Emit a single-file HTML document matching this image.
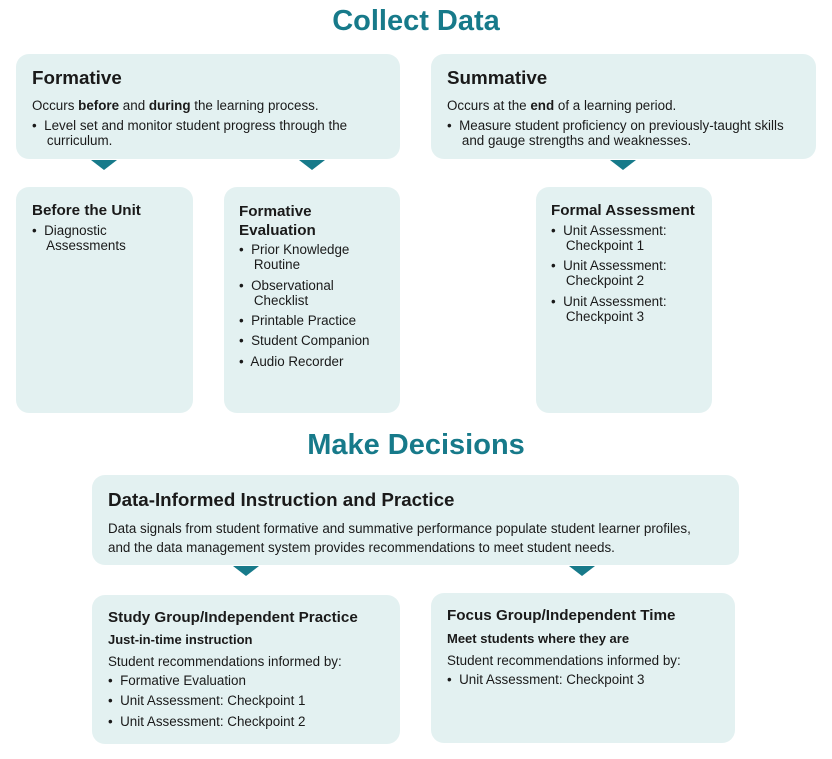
<!DOCTYPE html>
<html><head><meta charset="utf-8"><style>
*{margin:0;padding:0;box-sizing:border-box}
body{width:832px;height:759px;background:#fff;position:relative;font-family:"Liberation Sans",Arial,sans-serif;color:#1a1a1a;overflow:hidden}
.b{position:absolute;background:#e3f1f1;border-radius:13px}
.t{position:absolute;white-space:nowrap}
.h1{font-size:29px;font-weight:bold;color:#177a8a}
.h2{font-size:18.8px;font-weight:bold}
.h3{font-size:15.2px;font-weight:bold}
.p{font-size:13.4px;line-height:15px}
.tri{position:absolute;width:0;height:0;border-left:13px solid transparent;border-right:13px solid transparent;border-top:10px solid #177a8a}
</style></head><body>
<div class="t h1" style="left:0;width:832px;text-align:center;top:5px">Collect Data</div>

<div class="b" style="left:16px;top:54px;width:384px;height:105px"></div>
<div class="t h2" style="left:32px;top:67px">Formative</div>
<div class="t p" style="left:32px;top:98px">Occurs <b>before</b> and <b>during</b> the learning process.</div>
<div class="t p" style="left:32px;top:118px">•&nbsp; Level set and monitor student progress through the<br>&nbsp;&nbsp;&nbsp; curriculum.</div>

<div class="b" style="left:431px;top:54px;width:385px;height:105px"></div>
<div class="t h2" style="left:447px;top:67px">Summative</div>
<div class="t p" style="left:447px;top:98px">Occurs at the <b>end</b> of a learning period.</div>
<div class="t p" style="left:447px;top:118px">•&nbsp; Measure student proficiency on previously-taught skills<br>&nbsp;&nbsp;&nbsp; and gauge strengths and weaknesses.</div>

<div class="tri" style="left:91px;top:160px"></div>
<div class="tri" style="left:299px;top:160px"></div>
<div class="tri" style="left:610px;top:160px"></div>

<div class="b" style="left:16px;top:187px;width:177px;height:226px"></div>
<div class="t h3" style="left:32px;top:202px">Before the Unit</div>
<div class="t p" style="left:32px;top:223px">•&nbsp; Diagnostic<br>&nbsp;&nbsp;&nbsp; Assessments</div>

<div class="b" style="left:224px;top:187px;width:176px;height:226px"></div>
<div class="t h3" style="left:239px;top:202px;line-height:19px">Formative<br>Evaluation</div>
<div class="t p" style="left:239px;top:242px">•&nbsp; Prior Knowledge<br>&nbsp;&nbsp;&nbsp; Routine</div>
<div class="t p" style="left:239px;top:278px">•&nbsp; Observational<br>&nbsp;&nbsp;&nbsp; Checklist</div>
<div class="t p" style="left:239px;top:313px">•&nbsp; Printable Practice</div>
<div class="t p" style="left:239px;top:333px">•&nbsp; Student Companion</div>
<div class="t p" style="left:239px;top:354px">•&nbsp; Audio Recorder</div>

<div class="b" style="left:536px;top:187px;width:176px;height:226px"></div>
<div class="t h3" style="left:551px;top:202px">Formal Assessment</div>
<div class="t p" style="left:551px;top:223px">•&nbsp; Unit Assessment:<br>&nbsp;&nbsp;&nbsp; Checkpoint 1</div>
<div class="t p" style="left:551px;top:258px">•&nbsp; Unit Assessment:<br>&nbsp;&nbsp;&nbsp; Checkpoint 2</div>
<div class="t p" style="left:551px;top:294px">•&nbsp; Unit Assessment:<br>&nbsp;&nbsp;&nbsp; Checkpoint 3</div>

<div class="t h1" style="left:0;width:832px;text-align:center;top:429px">Make Decisions</div>

<div class="b" style="left:92px;top:475px;width:647px;height:90px"></div>
<div class="t h2" style="left:108px;top:489px">Data-Informed Instruction and Practice</div>
<div class="t p" style="left:108px;top:519px;line-height:19px">Data signals from student formative and summative performance populate student learner profiles,<br>and the data management system provides recommendations to meet student needs.</div>

<div class="tri" style="left:233px;top:566px"></div>
<div class="tri" style="left:569px;top:566px"></div>

<div class="b" style="left:92px;top:595px;width:308px;height:149px"></div>
<div class="t h3" style="left:108px;top:609px">Study Group/Independent Practice</div>
<div class="t p" style="left:108px;top:632px;font-size:13px"><b>Just-in-time instruction</b></div>
<div class="t p" style="left:108px;top:654px">Student recommendations informed by:</div>
<div class="t p" style="left:108px;top:673px">•&nbsp; Formative Evaluation</div>
<div class="t p" style="left:108px;top:693px">•&nbsp; Unit Assessment: Checkpoint 1</div>
<div class="t p" style="left:108px;top:714px">•&nbsp; Unit Assessment: Checkpoint 2</div>

<div class="b" style="left:431px;top:593px;width:304px;height:150px"></div>
<div class="t h3" style="left:447px;top:607px">Focus Group/Independent Time</div>
<div class="t p" style="left:447px;top:631px;font-size:13px"><b>Meet students where they are</b></div>
<div class="t p" style="left:447px;top:653px">Student recommendations informed by:</div>
<div class="t p" style="left:447px;top:672px">•&nbsp; Unit Assessment: Checkpoint 3</div>
</body></html>
